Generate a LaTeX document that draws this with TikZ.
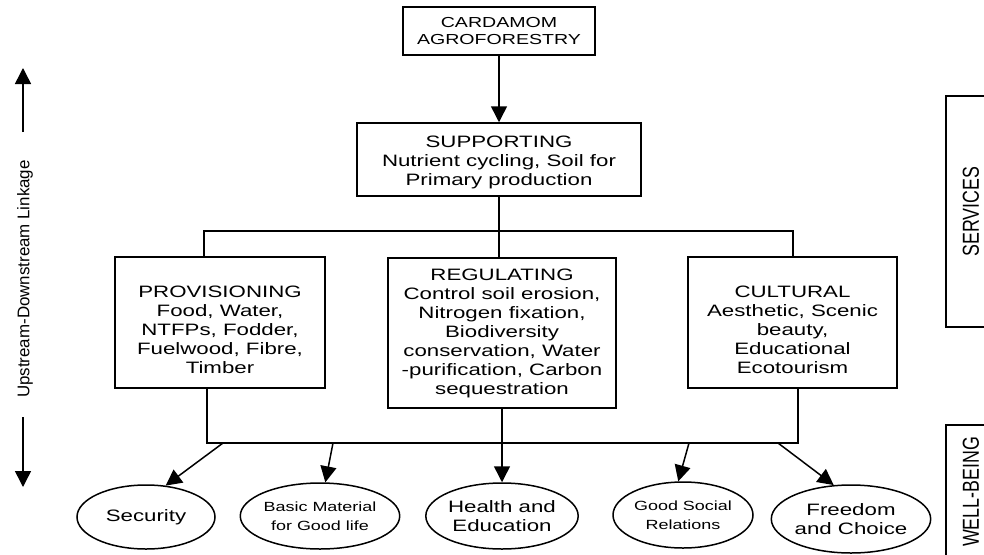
\documentclass[tikz,border=0pt]{standalone}
\usepackage{graphicx}
\usepackage{fontspec}
\setmainfont[FakeStretch=1.35]{Liberation Sans}
\newfontfamily\sidefont{Liberation Sans}
\usetikzlibrary{arrows.meta,shapes.geometric}
\begin{document}
\begin{tikzpicture}[x=1pt,y=-1pt,line width=1.5pt,
  box/.style={draw,rectangle,inner sep=0pt,align=center,font=\fontsize{16.5}{19}\selectfont},
  oval/.style={draw,ellipse,inner sep=0pt,align=center},
  big/.style={font=\fontsize{16.5}{19}\selectfont},
  small/.style={font=\fontsize{13.3}{19}\selectfont},
  side/.style={draw,rectangle,inner sep=0pt},
  arr/.style={-{Triangle[length=16pt,width=16pt]}}]
\clip (0,0) rectangle (984,554);
\fill[white] (0,0) rectangle (984,554);

% boxes
\node[box,minimum width=192pt,minimum height=48pt,font=\fontsize{14.5}{16.7}\selectfont] (card) at (499,31) {CARDAMOM\\AGROFORESTRY};
\node[box,minimum width=284pt,minimum height=73pt] (supp) at (499,159.5) {\rule{0pt}{17pt}SUPPORTING\\Nutrient cycling, Soil for\\Primary production};
\node[box,minimum width=210pt,minimum height=131pt] (prov) at (220,322.5) {\rule{0pt}{26pt}PROVISIONING\\Food, Water,\\NTFPs, Fodder,\\Fuelwood, Fibre,\\Timber};
\node[box,minimum width=228pt,minimum height=150pt] (reg) at (502,333) {REGULATING\\Control soil erosion,\\Nitrogen fixation,\\Biodiversity\\conservation, Water\\-purification, Carbon\\sequestration};
\node[box,minimum width=209pt,minimum height=131pt] (cult) at (792.5,322.5) {\rule{0pt}{26pt}CULTURAL\\Aesthetic, Scenic\\beauty,\\Educational\\Ecotourism};

% ellipses
\node[oval,big,minimum width=138pt,minimum height=64pt] (sec) at (146,517) {Security};
\node[oval,small,minimum width=138pt,minimum height=66pt] (basic) at (320,516) {Basic Material\\for Good life};
\node[oval,big,minimum width=138pt,minimum height=66pt] (health) at (502,516) {Health and\\Education};
\node[oval,small,minimum width=140pt,minimum height=66pt] (social) at (683,515) {Good Social\\Relations};
\node[oval,big,minimum width=138pt,minimum height=68pt] (free) at (851,519) {Freedom\\and Choice};

% side labels
\node[side,minimum width=50pt,minimum height=231pt] (svc) at (971,211.5) {\rotatebox{90}{\sidefont\fontsize{17.8}{20}\selectfont\scalebox{1}[1.3]{SERVICES}}};
\node[side,minimum width=50pt,minimum height=140pt] (wb) at (971,495) {};
\node[rotate=90,inner sep=0pt] (wbt) at (971,492) {\sidefont\fontsize{17.8}{20}\selectfont\scalebox{1}[1.3]{WELL-BEING}};
\node[rotate=90,inner sep=0pt] (link) at (25,279) {\sidefont\fontsize{16.9}{20}\selectfont Upstream-Downstream Linkage};

% left arrows
\coordinate (u1) at (23,132);
\coordinate (u2) at (23,68);
\coordinate (d1) at (23,417);
\coordinate (d2) at (23,487);
\draw[arr] (u1) -- (u2);
\draw[arr] (d1) -- (d2);

% connectors
\draw[arr] (card) -- (supp);
\coordinate (tl) at (204,231);
\coordinate (tr) at (793,231);
\draw (tl |- prov.north) -- (tl) -- (tr) -- (tr |- cult.north);
\draw (supp.south) -- (supp.south |- reg.north);
\coordinate (bl) at (207,443);
\coordinate (br) at (798,443);
\draw (bl |- prov.south) -- (bl) -- (br) -- (br |- cult.south);

\coordinate (a1) at (223,443);
\coordinate (a2) at (333,443);
\coordinate (a4) at (689,443);
\coordinate (a5) at (778,443);
\draw[arr] (a1) -- (sec.58);
\draw[arr] (a2) -- (basic.81);
\draw[arr] (reg.south) -- (health.north);
\draw[arr] (a4) -- (social.98);
\draw[arr] (a5) -- (free.117);
\end{tikzpicture}
\end{document}
